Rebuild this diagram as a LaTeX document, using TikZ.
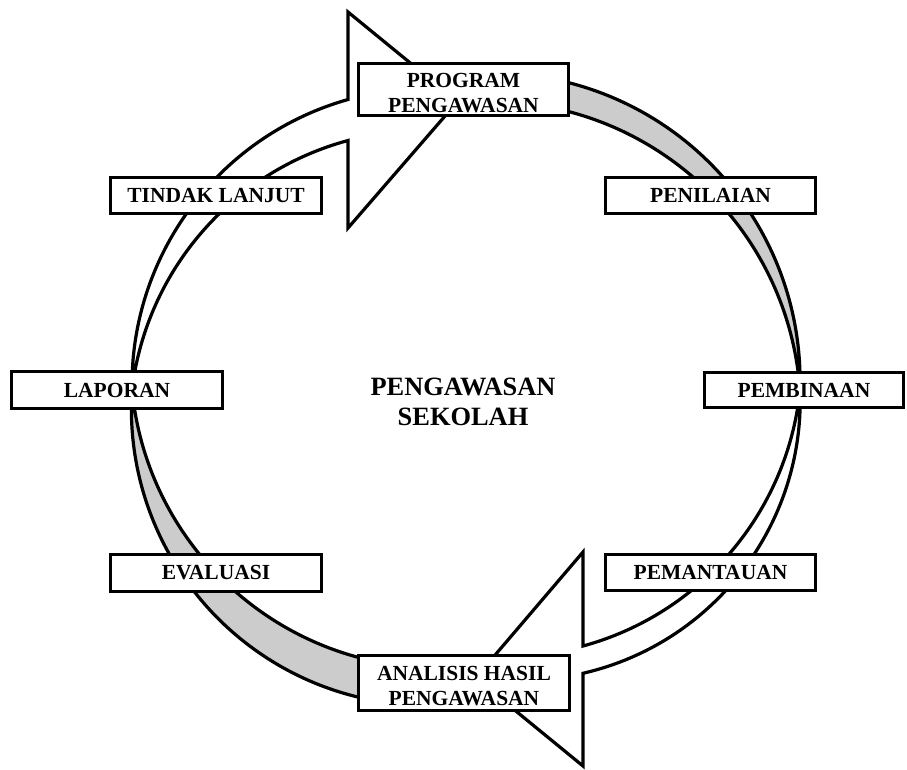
\documentclass[tikz,border=0pt]{standalone}
\usepackage{fontspec}
\setmainfont{Liberation Serif}
\definecolor{bandgray}{RGB}{204,204,204}
\newcommand{\topgap}{\rule{0pt}{20.5pt}}
\begin{document}
\begin{tikzpicture}[x=1pt,y=1pt,yscale=-1]
\tikzset{
  lbl/.style={draw=black, line width=3.4pt, fill=white, inner sep=0pt, align=center,
    font=\fontsize{21.5}{25}\selectfont\bfseries},
  whitearrow/.style={draw=black, line width=3.2pt, fill=white},
  grayband/.style={draw=black, line width=3.2pt, fill=bandgray},
  centertext/.style={align=center, inner sep=0pt, font=\fontsize{26.4}{30.5}\selectfont\bfseries}
}
\useasboundingbox (0,0) rectangle (907,769);
% gray back sides of the bands
\path[grayband] (470,73.9) arc[start angle=265.81,end angle=361.73,radius=307.6pt]
  arc[start angle=355.87,end angle=266.31,radius=310.8pt] -- cycle;
\path[grayband] (132.03,389.72) arc[start angle=183.75,end angle=83.74,radius=296.3pt]
  -- (460.0,667.1) arc[start angle=85.94,end angle=174.52,radius=307.6pt] -- cycle;
% white arrows
\path[whitearrow] (132.04,389.71) arc[start angle=179.05,end angle=254.26,radius=296.4pt]
  -- (348,12) -- (457.5,101.6) -- (348,228) -- (348,140.5)
  arc[start angle=254.92,end angle=186.92,radius=294.8pt] -- cycle;
\path[whitearrow] (800,390.3) arc[start angle=-2.07,end angle=77.04,radius=280pt]
  -- (583,766) -- (475.5,678) -- (583,552) -- (583,646)
  arc[start angle=74.72,end angle=5.92,radius=296.8pt] -- cycle;
% boxes
\node[lbl, minimum width=210pt, minimum height=52pt] (prog) at (463.5,89.5) {\topgap PROGRAM\\PENGAWASAN};
\node[lbl, minimum width=211pt, minimum height=36pt] (tindak) at (216,195.5) {TINDAK LANJUT};
\node[lbl, minimum width=210pt, minimum height=36pt] (nilai) at (710.5,195.5) {PENILAIAN};
\node[lbl, minimum width=199pt, minimum height=35pt] (bina) at (804,390) {PEMBINAAN};
\node[lbl, minimum width=211pt, minimum height=37pt] (lapor) at (117,390) {LAPORAN};
\node[lbl, minimum width=211pt, minimum height=37pt] (evalu) at (216,573) {EVALUASI};
\node[lbl, minimum width=210pt, minimum height=36pt] (pantau) at (710.5,572.5) {PEMANTAUAN};
\node[lbl, minimum width=211pt, minimum height=55pt] (analisis) at (464,683) {\topgap ANALISIS HASIL\\PENGAWASAN};
\node[centertext] (pusat) at (463,402) {PENGAWASAN\\SEKOLAH};
\end{tikzpicture}
\end{document}
